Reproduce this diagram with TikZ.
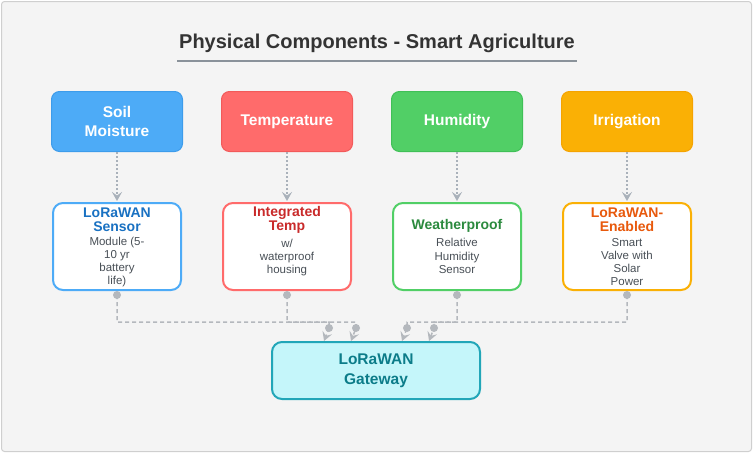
\documentclass[tikz,border=0pt]{standalone}
\usepackage{fontspec}
\setmainfont{Liberation Sans}
\usetikzlibrary{arrows.meta,calc}

\definecolor{pagebg}{HTML}{F4F4F4}
\definecolor{pageedge}{HTML}{CFCFCF}
\definecolor{titleink}{HTML}{333333}
\definecolor{ruleink}{HTML}{8A929A}
\definecolor{bodyink}{HTML}{495057}
\definecolor{soilfill}{HTML}{4DABF7}
\definecolor{soiledge}{HTML}{3D9CEB}
\definecolor{soilink}{HTML}{1971C2}
\definecolor{tempfill}{HTML}{FF6B6B}
\definecolor{tempedge}{HTML}{F25A5A}
\definecolor{tempink}{HTML}{C92A2A}
\definecolor{humfill}{HTML}{51CF66}
\definecolor{humedge}{HTML}{40C057}
\definecolor{humink}{HTML}{2B8A3E}
\definecolor{irrfill}{HTML}{FAB005}
\definecolor{irredge}{HTML}{F5A300}
\definecolor{irrink}{HTML}{E8590C}
\definecolor{gwfill}{HTML}{C5F6FA}
\definecolor{gwedge}{HTML}{22A6B8}
\definecolor{gwink}{HTML}{0C7C89}
\definecolor{flowgray}{HTML}{A9B1BA}
\definecolor{busgray}{HTML}{B4B8BD}

\tikzset{
  catbox/.style={draw=#1edge, fill=#1fill, rounded corners=8pt, line width=1pt,
    minimum width=131pt, minimum height=60pt, inner sep=0pt, text=white,
    font=\bfseries\fontsize{15.5}{19}\selectfont, align=center},
  devbox/.style={draw=#1fill, fill=white, rounded corners=10pt, line width=2pt,
    minimum width=128pt, minimum height=87pt, inner sep=0pt},
  devtitle/.style={text=#1ink, font=\bfseries\fontsize{14}{14.5}\selectfont,
    align=center, inner sep=0pt},
  devbody/.style={text=bodyink, font=\fontsize{11.5}{13.2}\selectfont,
    align=center, inner sep=0pt},
  gwbox/.style={draw=gwedge, fill=gwfill, rounded corners=10pt, line width=2pt,
    minimum width=208pt, minimum height=57pt, inner sep=0pt, text=gwink,
    font=\bfseries\fontsize{15.5}{20}\selectfont, align=center},
  flow/.style={draw=flowgray, line width=1.6pt, dash pattern=on 1.6pt off 2.4pt,
    -{Stealth[length=9pt,width=10pt,inset=3.5pt]}},
  bus/.style={draw=busgray, line width=1.5pt, dash pattern=on 4pt off 3pt,
    -{Stealth[length=9pt,width=10pt,inset=3.5pt]}},
  busdot/.style={fill=busgray, draw=none},
}

\begin{document}
\begin{tikzpicture}[x=1pt,y=-1pt]
  \useasboundingbox (0,0) rectangle (753,453);
  % page frame
  \draw[draw=pageedge, fill=pagebg, line width=1pt, rounded corners=3pt]
    (1.5,1.5) rectangle (751.5,451.5);

  % heading
  \node[text=titleink, font=\bfseries\fontsize{20}{24}\selectfont] (heading) at (377,43)
    {Physical Components - Smart Agriculture};
  \draw[ruleink, line width=1.5pt] (177,61) -- (577,61);

  % categories
  \node[catbox=soil] (c1) at (117,121.5) {Soil\\Moisture};
  \node[catbox=temp] (c2) at (287,121.5) {Temperature};
  \node[catbox=hum]  (c3) at (457,121.5) {Humidity};
  \node[catbox=irr]  (c4) at (627,121.5) {Irrigation};

  % devices
  \node[devbox=soil] (d1) at (117,246.5) {};
  \node[devbox=temp] (d2) at (287,246.5) {};
  \node[devbox=hum]  (d3) at (457,246.5) {};
  \node[devbox=irr]  (d4) at (627,246.5) {};

  \node[devtitle=soil] (t1) at (117,219.5) {LoRaWAN\\Sensor};
  \node[devbody] (b1) at (117,262) {Module (5-\\10 yr\\battery\\life)};
  \node[devtitle=temp] (t2) at (287,220) {Integrated\\Temp};
  \node[devbody] (b2) at (287,257.5) {w/\\waterproof\\housing};
  \node[devtitle=hum] (t3) at (457,226) {Weatherproof};
  \node[devbody] (b3) at (457,256) {Relative\\Humidity\\Sensor};
  \node[devtitle=irr] (t4) at (627,219.5) {LoRaWAN-\\Enabled};
  \node[devbody] (b4) at (627,262) {Smart\\Valve with\\Solar\\Power};

  % gateway
  \node[gwbox] (gw) at (376,370.5) {LoRaWAN\\Gateway};

  % category to device
  \foreach \i in {1,...,4}{
    \draw[flow] (c\i.south) -- ($(d\i.north)+(0,-1)$);
  }

  % device to gateway
  \coordinate (busy) at (0,322);
  \foreach \i/\dx in {1/-52,2/-25,3/26,4/53}{
    \coordinate (g\i) at ($(gw.north)+(\dx,0)$);
    \coordinate (k\i) at ($(g\i)+(5,-13)$);
    \fill[busdot] ($(d\i.south)+(0,4)$) circle (4pt);
    \draw[bus] ($(d\i.south)+(0,4)$) -- (d\i.south |- busy) -- (k\i |- busy) -- (k\i) -- (g\i);
    \fill[busdot] (k\i) circle (4pt);
  }
\end{tikzpicture}
\end{document}
